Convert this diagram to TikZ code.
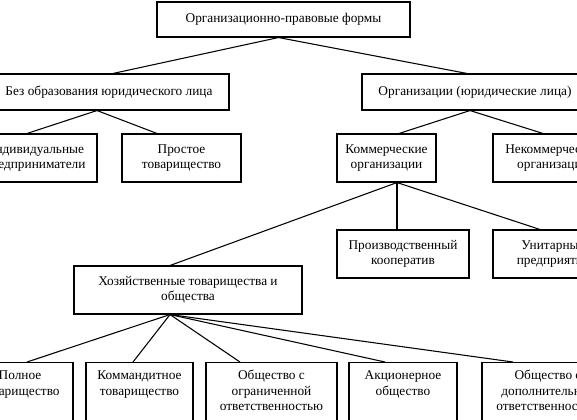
\documentclass[tikz,border=0pt]{standalone}
\usepackage{fontspec}
\setmainfont{Liberation Serif}
\usetikzlibrary{calc}

\begin{document}
\begin{tikzpicture}[x=0.75pt,y=-0.75pt,line width=0.8pt]
\tikzstyle{box}=[draw,rectangle,align=center,inner sep=3pt,font=\fontsize{10}{11.5}\selectfont]
\tikzstyle{low}=[box,anchor=north,align=flush center,text height=10pt,text depth=60pt]
\useasboundingbox (0,0) rectangle (577,419);
\fill[white] (0,0) rectangle (577,419);
\clip (0,0) rectangle (577,419);
% level 0 and 1
\node[box,minimum width=189.75pt,minimum height=26.25pt] (forms) at (283.5,19.5) {Организационно-правовые формы};
\node[box,minimum width=180pt,minimum height=27pt] (nolegal) at (109,92) {Без образования юридического лица};
\node[box,minimum width=169.5pt,minimum height=27pt] (legal) at (475,92) {Организации (юридические лица)};
% level 2
\node[box,minimum width=93pt,minimum height=36pt] (individ) at (35,158) {Индивидуальные\\предприниматели};
\node[box,minimum width=89.25pt,minimum height=36pt] (simple) at (181.5,158) {Простое\\товарищество};
\node[box,minimum width=74.25pt,minimum height=36pt] (comm) at (386.5,158) {Коммерческие\\организации};
\node[box,minimum width=90pt,minimum height=36pt] (noncomm) at (553,158) {Некоммерческие\\организации};
% level 3
\node[box,minimum width=99pt,minimum height=36pt] (coop) at (403,254) {Производственный\\кооператив};
\node[box,minimum width=90pt,minimum height=36pt] (unitary) at (553,254) {Унитарные\\предприятия};
\node[box,minimum width=171pt,minimum height=36pt] (partners) at (188,290) {Хозяйственные товарищества и\\общества};
% level 4
\node[low,text width=73.5pt] (general) at (20,362) {Полное\\товарищество};
\node[low,text width=74.25pt] (limited) at (139.5,362) {Коммандитное\\товарищество};
\node[low,text width=92.25pt] (llc) at (271.5,362) {Общество с\\ограниченной\\ответственностью};
\node[low,text width=75pt] (joint) at (403,362) {Акционерное\\общество};
\node[low,text width=93pt] (alc) at (548,362) {Общество с\\дополнительной\\ответственностью};
% connectors
\draw ($(forms.south)+(-5,0)$) -- ($(nolegal.north)+(4,0)$);
\draw ($(forms.south)+(-5,0)$) -- ($(legal.north)+(-8,0)$);
\draw ($(nolegal.south)+(-12,0)$) -- ($(individ.north)+(-8,0)$);
\draw ($(nolegal.south)+(-12,0)$) -- ($(simple.north)+(-24.5,0)$);
\draw ($(legal.south)+(-5,0)$) -- ($(comm.north)+(12.5,0)$);
\draw ($(legal.south)+(-5,0)$) -- ($(noncomm.north)+(-10,0)$);
\draw ($(comm.south)+(10.5,0)$) -- ($(partners.north)+(-18,0)$);
\draw ($(comm.south)+(10.5,0)$) -- ($(coop.north)+(-6,0)$);
\draw ($(comm.south)+(10.5,0)$) -- ($(unitary.north)+(-13,0)$);
\draw ($(partners.south)+(-18,0)$) -- ($(general.north)+(7,0)$);
\draw ($(partners.south)+(-18,0)$) -- ($(limited.north)+(-6.5,0)$);
\draw ($(partners.south)+(-18,0)$) -- ($(llc.north)+(-31.5,0)$);
\draw ($(partners.south)+(-18,0)$) -- ($(joint.north)+(-18,0)$);
\draw ($(partners.south)+(-18,0)$) -- ($(alc.north)+(-35,0)$);
\end{tikzpicture}
\end{document}
